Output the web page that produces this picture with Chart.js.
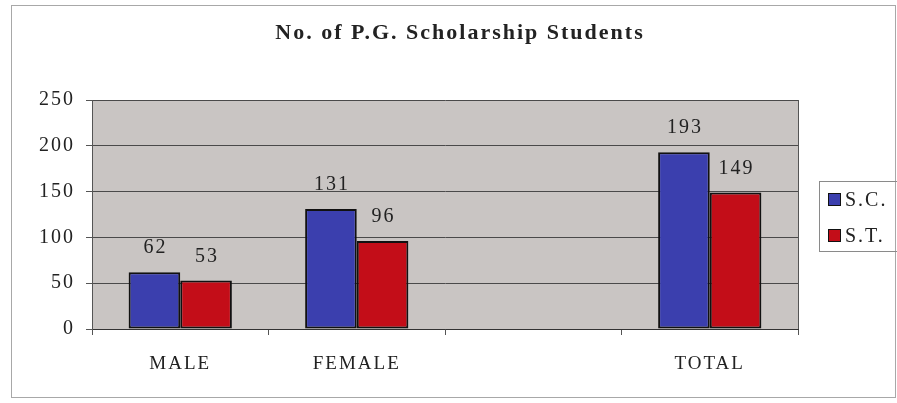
<!DOCTYPE html>
<html>
<head>
<meta charset="utf-8">
<script src="https://cdn.jsdelivr.net/npm/chart.js@4.4.1/dist/chart.umd.min.js"></script>
<style>
  body { margin: 0; background: #fff; }
  #chart { display: block; }
</style>
</head>
<body>
<canvas id="chart" width="897" height="403"></canvas>
<script>
// data
const categories = ["MALE", "FEMALE", "", "TOTAL"];
const scValues = [62, 131, null, 193];
const stValues = [53, 96, null, 149];
const seriesNames = ["S.C.", "S.T."];
const chartTitle = "No. of P.G. Scholarship Students";
const yMin = 0;
const yMax = 250;
const yStep = 50;

const serif = "'Liberation Serif', 'Times New Roman', serif";
const textColor = "#222";

// plot background, frame, title, right border of plot
const backdrop = {
  id: "backdrop",
  beforeDraw(chart) {
    const ctx = chart.ctx;
    const a = chart.chartArea;
    ctx.save();
    ctx.fillStyle = "#fff";
    ctx.fillRect(0, 0, chart.width, chart.height);
    ctx.fillStyle = "#c9c5c3";
    ctx.fillRect(a.left, a.top, a.right - a.left, a.bottom - a.top);
    ctx.strokeStyle = "#a8a8a8";
    ctx.lineWidth = 1;
    ctx.strokeRect(11.5, 5.5, 884, 392);

    // title sits centred on the whole frame, not the plot
    ctx.letterSpacing = "2px";
    ctx.font = "bold 22px " + serif;
    ctx.fillStyle = textColor;
    ctx.textAlign = "center";
    ctx.textBaseline = "middle";
    ctx.fillText(chartTitle, 460, 33);
    ctx.restore();
    ctx.letterSpacing = "2px";
  },
  afterDraw(chart) {
    const ctx = chart.ctx;
    const a = chart.chartArea;
    ctx.save();
    ctx.strokeStyle = "#555";
    ctx.lineWidth = 1;
    ctx.beginPath();
    ctx.moveTo(Math.round(a.right) + 0.5, a.top);
    ctx.lineTo(Math.round(a.right) + 0.5, a.bottom);
    ctx.stroke();
    ctx.restore();
  }
};

// numbers above bars
const barValues = {
  id: "barValues",
  afterDatasetsDraw(chart) {
    const ctx = chart.ctx;
    ctx.save();
    ctx.letterSpacing = "2px";
    ctx.font = "20px " + serif;
    ctx.fillStyle = textColor;
    ctx.textAlign = "center";
    ctx.textBaseline = "middle";
    chart.data.datasets.forEach((ds, i) => {
      chart.getDatasetMeta(i).data.forEach((bar, j) => {
        const v = ds.data[j];
        if (v == null) return;
        ctx.fillText(String(v), bar.x + 1, bar.y - 24);
      });
    });
    ctx.restore();
  }
};

// legend box on the right
const sideLegend = {
  id: "sideLegend",
  afterDraw(chart) {
    const ctx = chart.ctx;
    ctx.save();
    ctx.strokeStyle = "#8a8a8a";
    ctx.lineWidth = 1;
    ctx.strokeRect(819.5, 181.5, 90, 70);
    ctx.letterSpacing = "2px";
    ctx.font = "20px " + serif;
    ctx.textBaseline = "middle";
    ctx.textAlign = "left";
    chart.data.datasets.forEach((ds, i) => {
      const cy = 200 + i * 36;
      ctx.fillStyle = ds.backgroundColor;
      ctx.fillRect(828, cy - 7, 13, 13);
      ctx.strokeStyle = "#111";
      ctx.strokeRect(828.5, cy - 6.5, 12, 12);
      ctx.fillStyle = textColor;
      ctx.fillText(ds.label, 845, cy + 1);
    });
    ctx.restore();
  }
};

new Chart(document.getElementById("chart"), {
  type: "bar",
  data: {
    labels: categories,
    datasets: [
      {
        label: seriesNames[0],
        data: scValues,
        backgroundColor: "#3b3fae",
        borderColor: "#111",
        borderWidth: 2,
        borderSkipped: false
      },
      {
        label: seriesNames[1],
        data: stValues,
        backgroundColor: "#c30d18",
        borderColor: "#111",
        borderWidth: 2,
        borderSkipped: false
      }
    ]
  },
  options: {
    responsive: false,
    devicePixelRatio: 1,
    animation: false,
    datasets: {
      bar: { categoryPercentage: 0.585, barPercentage: 1 }
    },
    layout: { padding: { left: 0, right: 99, top: 100, bottom: 0 } },
    plugins: {
      legend: { display: false },
      tooltip: { enabled: false },
      title: { display: false }
    },
    scales: {
      x: {
        offset: true,
        afterFit(scale) { scale.height = 74; },
        grid: {
          offset: true,
          drawOnChartArea: false,
          drawTicks: true,
          tickLength: 6,
          color: "#555"
        },
        border: { color: "#333", width: 1 },
        ticks: {
          color: textColor,
          font: { family: serif, size: 19 },
          padding: 18,
          maxRotation: 0
        }
      },
      y: {
        min: yMin,
        max: yMax,
        afterFit(scale) { scale.width = 92; },
        grid: {
          color: "#4a4a4a",
          lineWidth: 1,
          drawTicks: true,
          tickLength: 6,
          tickColor: "#555"
        },
        border: { color: "#555", width: 1 },
        ticks: {
          stepSize: yStep,
          color: textColor,
          font: { family: serif, size: 20 },
          padding: 11
        }
      }
    }
  },
  plugins: [backdrop, barValues, sideLegend]
});
</script>
</body>
</html>
